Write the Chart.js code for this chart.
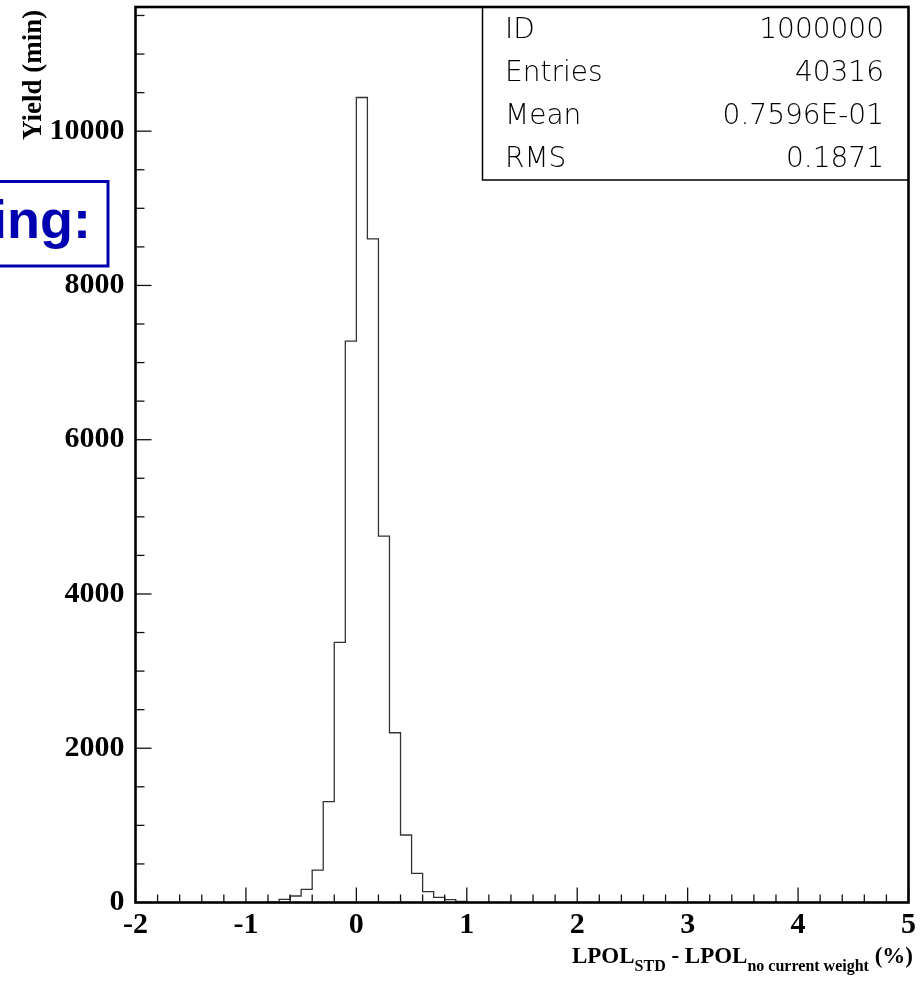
<!DOCTYPE html>
<html>
<head>
<meta charset="utf-8">
<script src="https://cdn.jsdelivr.net/npm/chart.js@4.4.1/dist/chart.umd.min.js"></script>
<style>
  html, body { margin: 0; padding: 0; background: #fff; }
  canvas { display: block; }
</style>
</head>
<body>
<canvas id="hist" width="923" height="987"></canvas>
<script>
// contenido del histograma (bins de 0.1 %)
const binLow = [-0.8, -0.7, -0.6, -0.5, -0.4, -0.3, -0.2, -0.1, 0.0, 0.1, 0.2, 0.3, 0.4, 0.5, 0.6, 0.7, 0.8, 0.9];
const binWidth = 0.1;
const counts = [6, 41, 84, 171, 421, 1307, 3373, 7278, 10437, 8604, 4750, 2201, 875, 378, 140, 67, 36, 13];

// ejes
const xLimits = [-2, 5];
const yLimits = [0, 11610];
const xTickValues = [-2, -1, 0, 1, 2, 3, 4, 5];
const yTickValues = [0, 2000, 4000, 6000, 8000, 10000];
const xMinorStep = 0.2;
const yMinorStep = 500;

// caja de estadisticas
const statNames = ['ID', 'Entries', 'Mean', 'RMS'];
const statValues = ['1000000', '40316', '0.7596E-01', '0.1871'];

// contorno escalonado
const puntos = [{ x: binLow[0], y: 0 }];
binLow.forEach((x, i) => puntos.push({ x: x, y: counts[i] }));
puntos.push({ x: binLow[binLow.length - 1] + binWidth, y: counts[counts.length - 1] });
puntos.push({ x: binLow[binLow.length - 1] + binWidth, y: 0 });

const serif = '"Liberation Serif", "Times New Roman", serif';

const decoracion = {
  id: 'decoracion',
  beforeDraw(chart) {
    const ctx = chart.ctx;
    ctx.save();
    ctx.fillStyle = '#fff';
    ctx.fillRect(0, 0, chart.width, chart.height);
    ctx.restore();
  },
  afterDraw(chart) {
    const { ctx, chartArea: a, scales: { x, y } } = chart;
    ctx.save();
    ctx.strokeStyle = '#111';
    ctx.lineWidth = 1.3;

    // marcas hacia adentro en X
    for (let k = 0; ; k++) {
      const v = xLimits[0] + k * xMinorStep;
      if (v > xLimits[1] + 1e-9) break;
      const px = x.getPixelForValue(v);
      const major = xTickValues.some(t => Math.abs(t - v) < 1e-6);
      ctx.beginPath();
      ctx.moveTo(px, a.bottom);
      ctx.lineTo(px, a.bottom - (major ? 15 : 8));
      ctx.stroke();
    }
    // marcas hacia adentro en Y
    for (let k = 0; ; k++) {
      const v = yLimits[0] + k * yMinorStep;
      if (v > yLimits[1]) break;
      const py = y.getPixelForValue(v);
      const major = yTickValues.includes(v);
      ctx.beginPath();
      ctx.moveTo(a.left, py);
      ctx.lineTo(a.left + (major ? 16 : 9), py);
      ctx.stroke();
    }

    // marco
    ctx.strokeStyle = '#000';
    ctx.lineWidth = 2.6;
    ctx.strokeRect(a.left, a.top, a.right - a.left, a.bottom - a.top);

    // caja de estadisticas
    const bx = 482.5, by = 180;
    ctx.lineWidth = 1.5;
    ctx.beginPath();
    ctx.moveTo(bx, a.top);
    ctx.lineTo(bx, by);
    ctx.lineTo(a.right, by);
    ctx.stroke();
    ctx.fillStyle = '#000';
    ctx.font = '200 28px "DejaVu Sans", sans-serif';
    ctx.textBaseline = 'alphabetic';
    statNames.forEach((nombre, i) => {
      const base = 38 + i * 43;
      ctx.textAlign = 'left';
      ctx.fillText(nombre, 505, base);
      ctx.textAlign = 'right';
      ctx.fillText(statValues[i], 884, base);
    });

    // titulo eje Y
    ctx.fillStyle = '#000';
    ctx.save();
    ctx.translate(40.5, 140);
    ctx.rotate(-Math.PI / 2);
    ctx.font = 'bold 27px ' + serif;
    ctx.textAlign = 'left';
    ctx.fillText('Yield (min)', 0, 0);
    ctx.restore();

    // titulo eje X con subindices
    const partes = [
      ['LPOL', 23, 0], ['STD', 16, 8], [' - LPOL', 23, 0],
      ['no current weight', 16, 8], [' (%)', 23, 0]
    ];
    let total = 0;
    partes.forEach(p => { ctx.font = 'bold ' + p[1] + 'px ' + serif; total += ctx.measureText(p[0]).width; });
    let cx = 913 - total;
    ctx.textAlign = 'left';
    partes.forEach(p => {
      ctx.font = 'bold ' + p[1] + 'px ' + serif;
      ctx.fillText(p[0], cx, 963 + p[2]);
      cx += ctx.measureText(p[0]).width;
    });

    // recuadro azul recortado
    ctx.fillStyle = '#fff';
    ctx.fillRect(-5, 181, 113, 85);
    ctx.strokeStyle = '#0000b0';
    ctx.lineWidth = 3;
    ctx.strokeRect(-5, 181.5, 113, 84.5);
    ctx.fillStyle = '#0000b0';
    ctx.font = 'bold 54px "Liberation Sans", Arial, sans-serif';
    ctx.textAlign = 'right';
    ctx.fillText('ing:', 91, 238);

    ctx.restore();
  }
};

function sinRelleno(s) {
  s.paddingTop = 0;
  s.paddingBottom = 0;
  s.paddingLeft = 0;
  s.paddingRight = 0;
}

const config = {
  type: 'line',
  data: {
    datasets: [{
      data: puntos,
      stepped: 'before',
      borderColor: '#333',
      borderWidth: 1.3,
      pointRadius: 0,
      fill: false
    }]
  },
  options: {
    responsive: false,
    animation: false,
    layout: { padding: { top: 7, right: 14.5, left: 0, bottom: 0 } },
    plugins: { legend: { display: false }, tooltip: { enabled: false } },
    scales: {
      x: {
        type: 'linear',
        min: xLimits[0],
        max: xLimits[1],
        grid: { display: false, drawTicks: false },
        border: { display: false },
        afterFit: s => { s.height = 84.5; sinRelleno(s); },
        afterBuildTicks: s => { s.ticks = xTickValues.map(v => ({ value: v })); },
        ticks: {
          padding: 5,
          color: '#000',
          maxRotation: 0,
          autoSkip: false,
          font: { family: serif, weight: 'bold', size: 30 },
          callback: v => String(v)
        }
      },
      y: {
        min: yLimits[0],
        max: yLimits[1],
        grid: { display: false, drawTicks: false },
        border: { display: false },
        afterFit: s => { s.width = 135.5; sinRelleno(s); },
        afterBuildTicks: s => { s.ticks = yTickValues.map(v => ({ value: v })); },
        ticks: {
          padding: 11,
          color: '#000',
          autoSkip: false,
          font: { family: serif, weight: 'bold', size: 30 },
          callback: v => String(v)
        }
      }
    }
  },
  plugins: [decoracion]
};

new Chart(document.getElementById('hist'), config);
</script>
</body>
</html>
